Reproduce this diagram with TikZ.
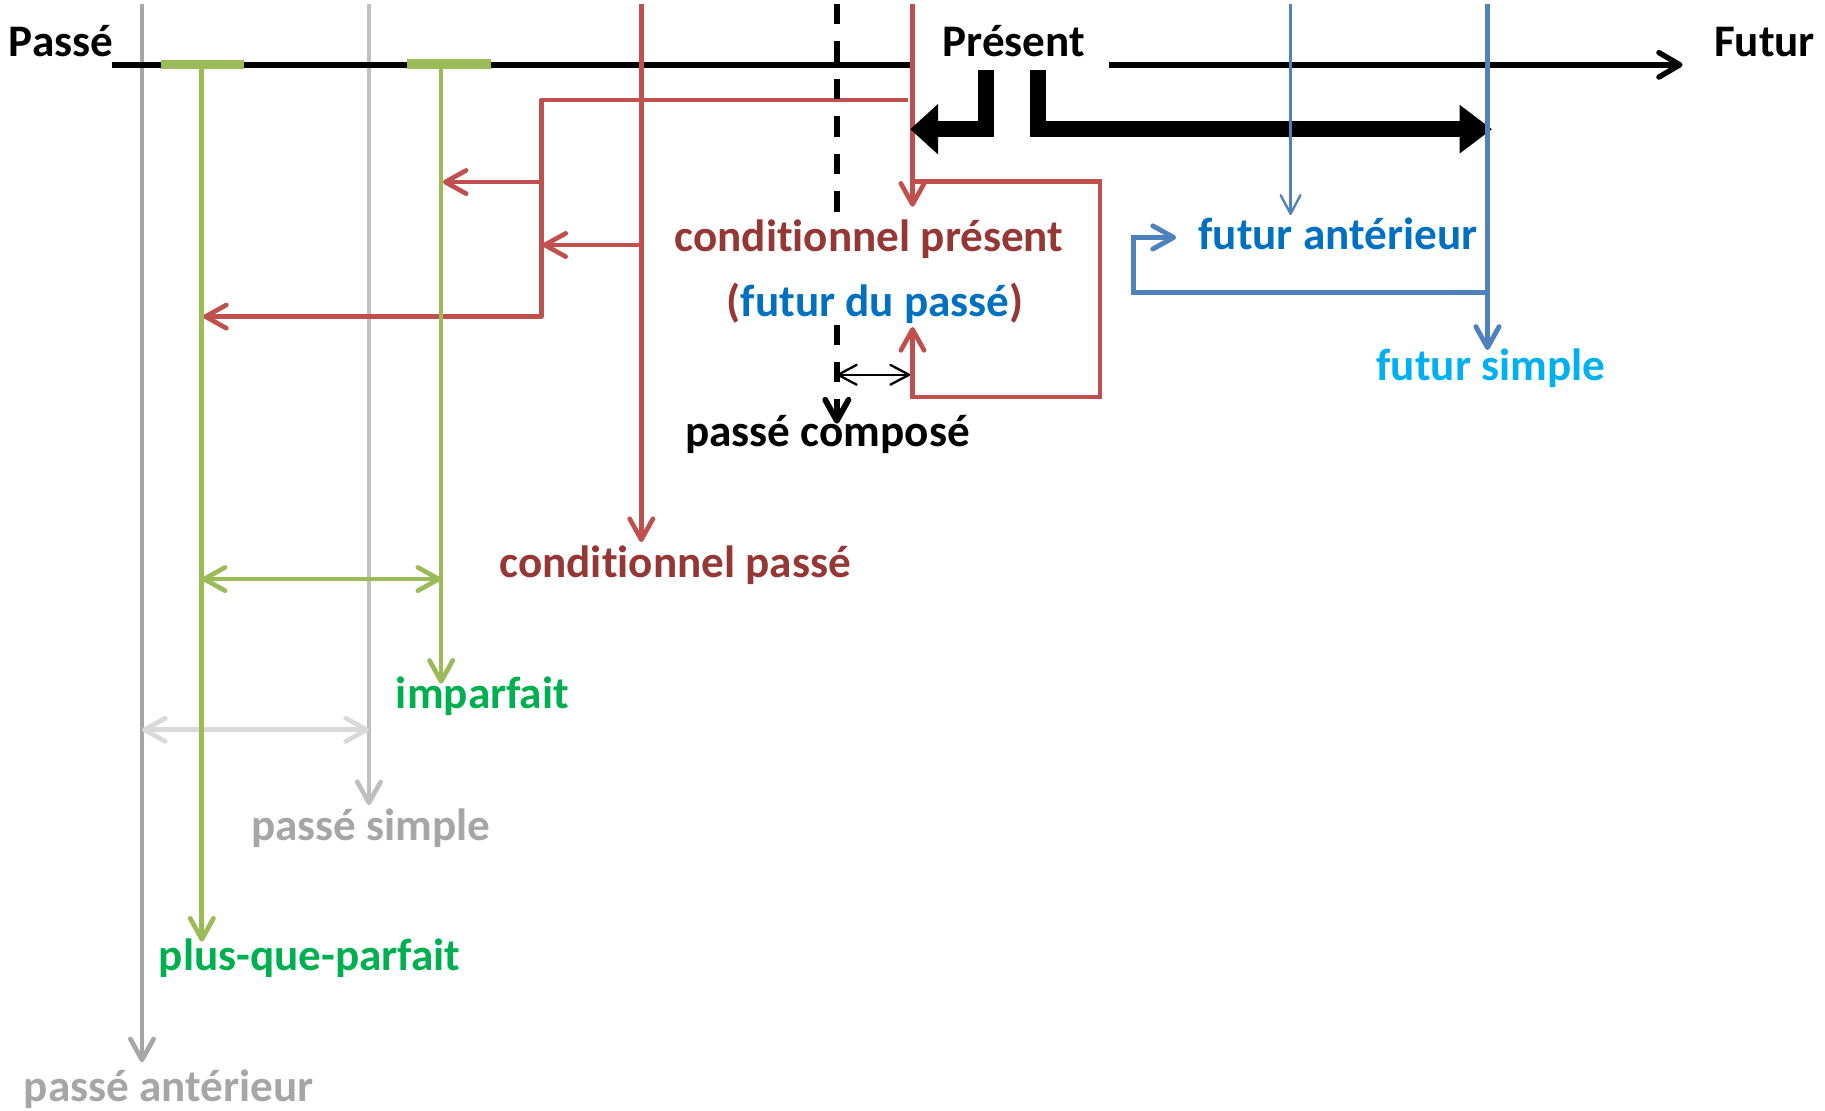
\documentclass[tikz,border=0pt]{standalone}
\usepackage{fontspec}
\setmainfont{Carlito}[Ligatures={NoCommon,NoContextual}]
\usetikzlibrary{arrows.meta}
\definecolor{lred}{HTML}{C0504D}
\definecolor{dred}{HTML}{953735}
\definecolor{lgreen}{HTML}{9BBB59}
\definecolor{tgreen}{HTML}{00B050}
\definecolor{lblue}{HTML}{4F81BD}
\definecolor{tblue}{HTML}{0070C0}
\definecolor{tcyan}{HTML}{00B0F0}
\definecolor{gray1}{HTML}{A6A6A6}
\definecolor{gray2}{HTML}{BFBFBF}
\definecolor{gray3}{HTML}{D9D9D9}
\begin{document}
\begin{tikzpicture}[x=1pt,y=-1pt,
  ln/.style={line width=4pt},
  tip/.style={-{Straight Barb[length=18pt,width=20pt,round]}},
  dtip/.style={{Straight Barb[length=18pt,width=20pt,round]}-{Straight Barb[length=18pt,width=20pt,round]}},
  big/.style={line width=13.5pt,line join=miter,-{Triangle[length=24pt,width=42pt]}},
  lbl/.style={font=\fontsize{38.8}{46}\selectfont\bfseries,inner sep=0pt,anchor=base},
  ]
\useasboundingbox (0,0) rectangle (1568,954);
% coordinates
\coordinate (pl) at (96,55.7);   \coordinate (pr) at (784,55.7);
\coordinate (fl) at (953,55.7);  \coordinate (fr) at (1445.6,55.7);
\coordinate (g1t) at (122,3.4);  \coordinate (g1b) at (122,912.6);
\coordinate (g2t) at (317,3.4);  \coordinate (g2b) at (317,691.8);
\coordinate (lg1) at (122,627);  \coordinate (lg2) at (317,627);
\coordinate (s1a) at (138,55.5); \coordinate (s1b) at (210,55.5);
\coordinate (s2a) at (350,55);   \coordinate (s2b) at (422,55);
\coordinate (v1t) at (173.4,55.7); \coordinate (v1b) at (173.4,809);
\coordinate (v2t) at (379,55.7);   \coordinate (v2b) at (379,587.4);
\coordinate (gd1) at (173.4,497.5); \coordinate (gd2) at (379,497.5);
\coordinate (r1t) at (551,3.4);  \coordinate (r1b) at (551,465.7);
\coordinate (rb0) at (780,86);   \coordinate (rb1) at (465,86);
\coordinate (rb2) at (465,272);  \coordinate (rb3) at (174.5,272);
\coordinate (ra1) at (465,156.4); \coordinate (ra2) at (380.5,156.4);
\coordinate (rc1) at (551,210.5); \coordinate (rc2) at (466,210.5);
\coordinate (r2t) at (784,3.4);  \coordinate (r2b) at (784,177.6);
\coordinate (bx1) at (784,156);  \coordinate (bx2) at (945,156);
\coordinate (bx3) at (945,341);  \coordinate (bx4) at (784,341);
\coordinate (bx5) at (784,281);
\coordinate (dt) at (719,3.4);   \coordinate (dm) at (719,183);
\coordinate (dn) at (719,279);   \coordinate (db) at (719,364);
\coordinate (k1) at (719,322);   \coordinate (k2) at (782,322);
\coordinate (la) at (847,60);    \coordinate (lb) at (847,111);  \coordinate (lc) at (782,111);
\coordinate (ma) at (892,60);    \coordinate (mb) at (892,111);  \coordinate (mc) at (1282,111);
\coordinate (bt1) at (1108.8,3.4); \coordinate (bb1) at (1108.8,184.7);
\coordinate (bt2) at (1278,3.4);   \coordinate (bb2) at (1278,300.7);
\coordinate (bq1) at (1278,251.5); \coordinate (bq2) at (974,251.5);
\coordinate (bq3) at (974,204);    \coordinate (bq4) at (1010.5,204);
% gray
\draw[ln,gray1,tip] (g1t) -- (g1b);
\draw[ln,gray2,tip] (g2t) -- (g2b);
\draw[ln,gray3,dtip] (lg1) -- (lg2);
% timeline
\draw[line width=4.6pt] (pl) -- (pr);
\draw[line width=4.6pt,-{Straight Barb[length=18pt,width=21pt,round]}] (fl) -- (fr);
% red
\draw[ln,lred,tip] (r1t) -- (r1b);
\draw[ln,lred,tip,line join=round] (rb0) -- (rb1) -- (rb2) -- (rb3);
\draw[ln,lred,tip] (ra1) -- (ra2);
\draw[ln,lred,tip] (rc1) -- (rc2);
\draw[ln,lred,tip] (r2t) -- (r2b);
\draw[ln,lred,tip,line join=miter] (bx1) -- (bx2) -- (bx3) -- (bx4) -- (bx5);
% green
\draw[ln,lgreen,tip] (v1t) -- (v1b);
\draw[ln,lgreen,tip] (v2t) -- (v2b);
\draw[ln,lgreen,dtip] (gd1) -- (gd2);
\draw[line width=8pt,lgreen] (s1a) -- (s1b);
\draw[line width=8pt,lgreen] (s2a) -- (s2b);
% dashed
\draw[line width=5pt,dash pattern=on 17.5pt off 14.7pt] (dt) -- (dm);
\draw[line width=5pt,dash pattern=on 17.5pt off 14.5pt,-{Straight Barb[length=18pt,width=20pt,round]}] (dn) -- (db);
\draw[line width=2pt,{Straight Barb[length=16pt,width=17pt,round]}-{Straight Barb[length=16pt,width=17pt,round]}] (k1) -- (k2);
% big black arrows
\draw[big] (la) -- (lb) -- (lc);
\draw[big,-{Triangle[length=28pt,width=40pt]}] (ma) -- (mb) -- (mc);
% blue
\draw[line width=2pt,lblue,-{Straight Barb[length=16pt,width=17pt,round]}] (bt1) -- (bb1);
\draw[line width=4.2pt,lblue,tip] (bt2) -- (bb2);
\draw[line width=4.2pt,lblue,tip,line join=miter] (bq1) -- (bq2) -- (bq3) -- (bq4);
% labels
\node[lbl] (passe) at (52.5,48.7) {Passé};
\node[lbl] (present) at (871,48.7) {Présent};
\node[lbl] (futur) at (1516,48.7) {Futur};
\node[lbl,dred] (cpres) at (746.6,216) {conditionnel présent};
\node[lbl,dred] (fdp) at (752,272) {(\textcolor{tblue}{futur du passé})};
\node[lbl] (pcomp) at (711,384) {passé composé};
\node[lbl,dred] (cpasse) at (580,496.5) {conditionnel passé};
\node[lbl,tgreen] (imp) at (414.5,609) {imparfait};
\node[lbl,gray1] (psimp) at (318.5,722) {passé simple};
\node[lbl,tgreen] (pqp) at (266,834) {plus-que-parfait};
\node[lbl,gray1] (pant) at (145,946) {passé antérieur};
\node[lbl,tblue] (fant) at (1149.5,214.5) {futur antérieur};
\node[lbl,tcyan] (fsimp) at (1281,326.5) {futur simple};
\end{tikzpicture}
\end{document}
